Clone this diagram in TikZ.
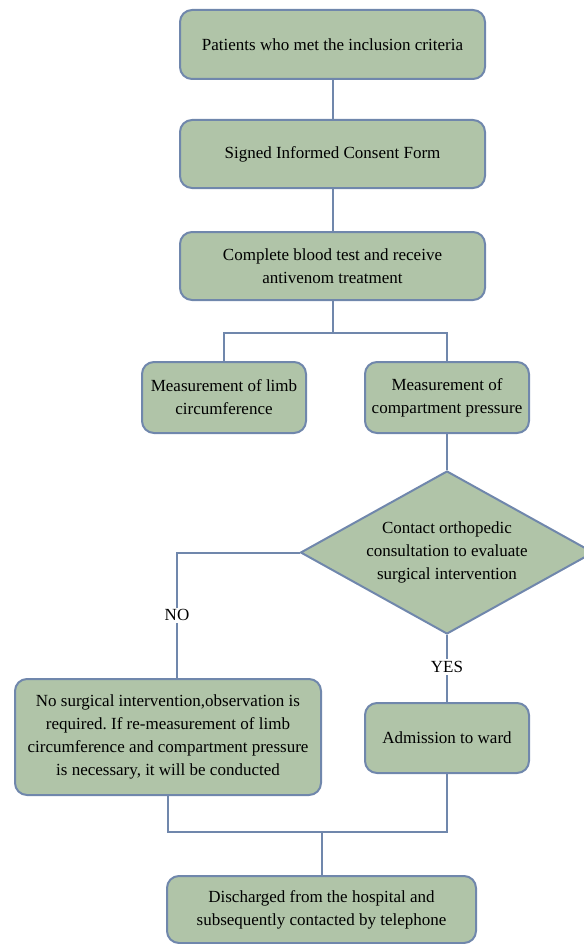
\documentclass[tikz,border=0pt]{standalone}
\usepackage{fontspec}
\setmainfont{Liberation Serif}
\frenchspacing
\usetikzlibrary{shapes.geometric}
\definecolor{boxfill}{RGB}{176,196,168}
\definecolor{boxline}{RGB}{112,135,172}
\begin{document}
\begin{tikzpicture}[x=1pt,y=-1pt,
  stepbox/.style={draw=boxline, line width=2pt, fill=boxfill, rounded corners=12pt,
    align=center, font=\fontsize{17}{23}\selectfont, inner sep=0pt},
  conn/.style={draw=boxline, line width=2pt},
  lbl/.style={font=\fontsize{17}{20}\selectfont, fill=white, inner sep=2pt}]
\useasboundingbox (0,0) rectangle (583,944);
\node[stepbox, minimum width=305pt, minimum height=69pt] (b1) at (332.5,44.5) {Patients who met the inclusion criteria};
\node[stepbox, minimum width=305pt, minimum height=68pt] (b2) at (332.5,154) {Signed Informed Consent Form};
\node[stepbox, minimum width=305pt, minimum height=68pt] (b3) at (332.5,266) {Complete blood test and receive\\antivenom treatment};
\node[stepbox, minimum width=164pt, minimum height=71pt] (b4) at (224,397.5) {Measurement of limb\\circumference};
\node[stepbox, minimum width=164pt, minimum height=71pt] (b5) at (447,397.5) {Measurement of\\compartment pressure};
\node[draw=boxline, line width=2pt, fill=boxfill, diamond, aspect=1.8, minimum width=293pt, minimum height=163pt, inner sep=0pt,
  align=center, font=\fontsize{17}{23}\selectfont] (d) at (447,552.5) {Contact orthopedic\\consultation to evaluate\\surgical intervention};
\node[stepbox, minimum width=306pt, minimum height=116pt] (b7) at (168,737) {No surgical intervention,observation is\\required. If re-measurement of limb\\circumference and compartment pressure\\is necessary, it will be conducted};
\node[stepbox, minimum width=164pt, minimum height=70pt] (b8) at (447,738) {Admission to ward};
\node[stepbox, minimum width=309pt, minimum height=67pt] (b9) at (321.5,909.5) {Discharged from the hospital and\\subsequently contacted by telephone};
\coordinate (j1) at (332.5,333);
\coordinate (n1) at (177,552.5);
\coordinate (j2) at (321.5,832);
\draw[conn] (b1.south) -- (b2.north);
\draw[conn] (b2.south) -- (b3.north);
\draw[conn] (b3.south) -- (j1);
\draw[conn] (b4.north) |- (j1) -| (b5.north);
\draw[conn] (b5.south) -- (d.north);
\draw[conn] (d.west) -- (n1) -- (n1 |- b7.north) node[lbl, pos=0.5] (no) {NO};
\draw[conn] (d.south) -- (b8.north) node[lbl, pos=0.48] (yes) {YES};
\draw[conn] (b7.south) |- (j2) -| (b8.south);
\draw[conn] (j2) -- (b9.north);
\end{tikzpicture}
\end{document}
